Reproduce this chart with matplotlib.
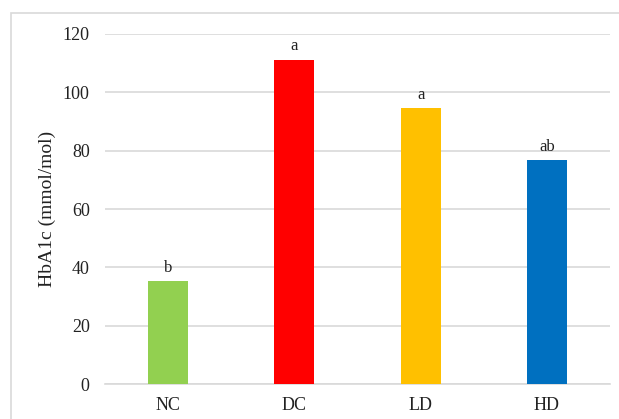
import matplotlib
matplotlib.use('Agg')
import matplotlib.pyplot as plt
from matplotlib.patches import Rectangle

# Group data
groups = ['NC', 'DC', 'LD', 'HD']
hba1c = [35.3, 111.2, 94.7, 76.8]
letters = ['b', 'a', 'a', 'ab']
colors = ['#92D050', '#FF0000', '#FFC000', '#0070C0']

plt.rcParams['font.family'] = 'Liberation Serif'

fig = plt.figure(figsize=(6.19, 4.19), dpi=100)
ax = fig.add_axes([105/619, 1 - 384/419, 505/619, 350/419])

x = range(len(groups))
ax.bar(x, hba1c, width=0.317, color=colors, zorder=3)
for xi, v, lab in zip(x, hba1c, letters):
    ax.text(xi, v + 1.8, lab, ha='center', va='bottom', fontsize=12, color='#222222')

ax.set_xlim(-0.5, 3.5)
ax.set_ylim(0, 120)
ax.set_yticks(range(0, 121, 20))
ax.set_xticks(list(x))
ax.set_xticklabels(groups)
ax.yaxis.grid(True, color='#D9D9D9', linewidth=1.2, zorder=0)
ax.tick_params(length=0, labelsize=13, colors='#222222')
ax.tick_params(axis='y', pad=11)
ax.tick_params(axis='x', pad=9)
for s in ['top', 'right', 'left']:
    ax.spines[s].set_visible(False)
ax.spines['bottom'].set_color('#D9D9D9')
ax.spines['bottom'].set_linewidth(1.2)
ax.set_ylabel('HbA1c (mmol/mol)', fontsize=14, color='#222222', labelpad=5)

# chart frame, cut off at right and bottom
fig.patches.append(Rectangle((11/619, -0.1), 1.2, 1 - 13/419 + 0.1,
                             transform=fig.transFigure, fill=False,
                             edgecolor='#D9D9D9', linewidth=1.2))

fig.savefig('out.png', dpi=100)
